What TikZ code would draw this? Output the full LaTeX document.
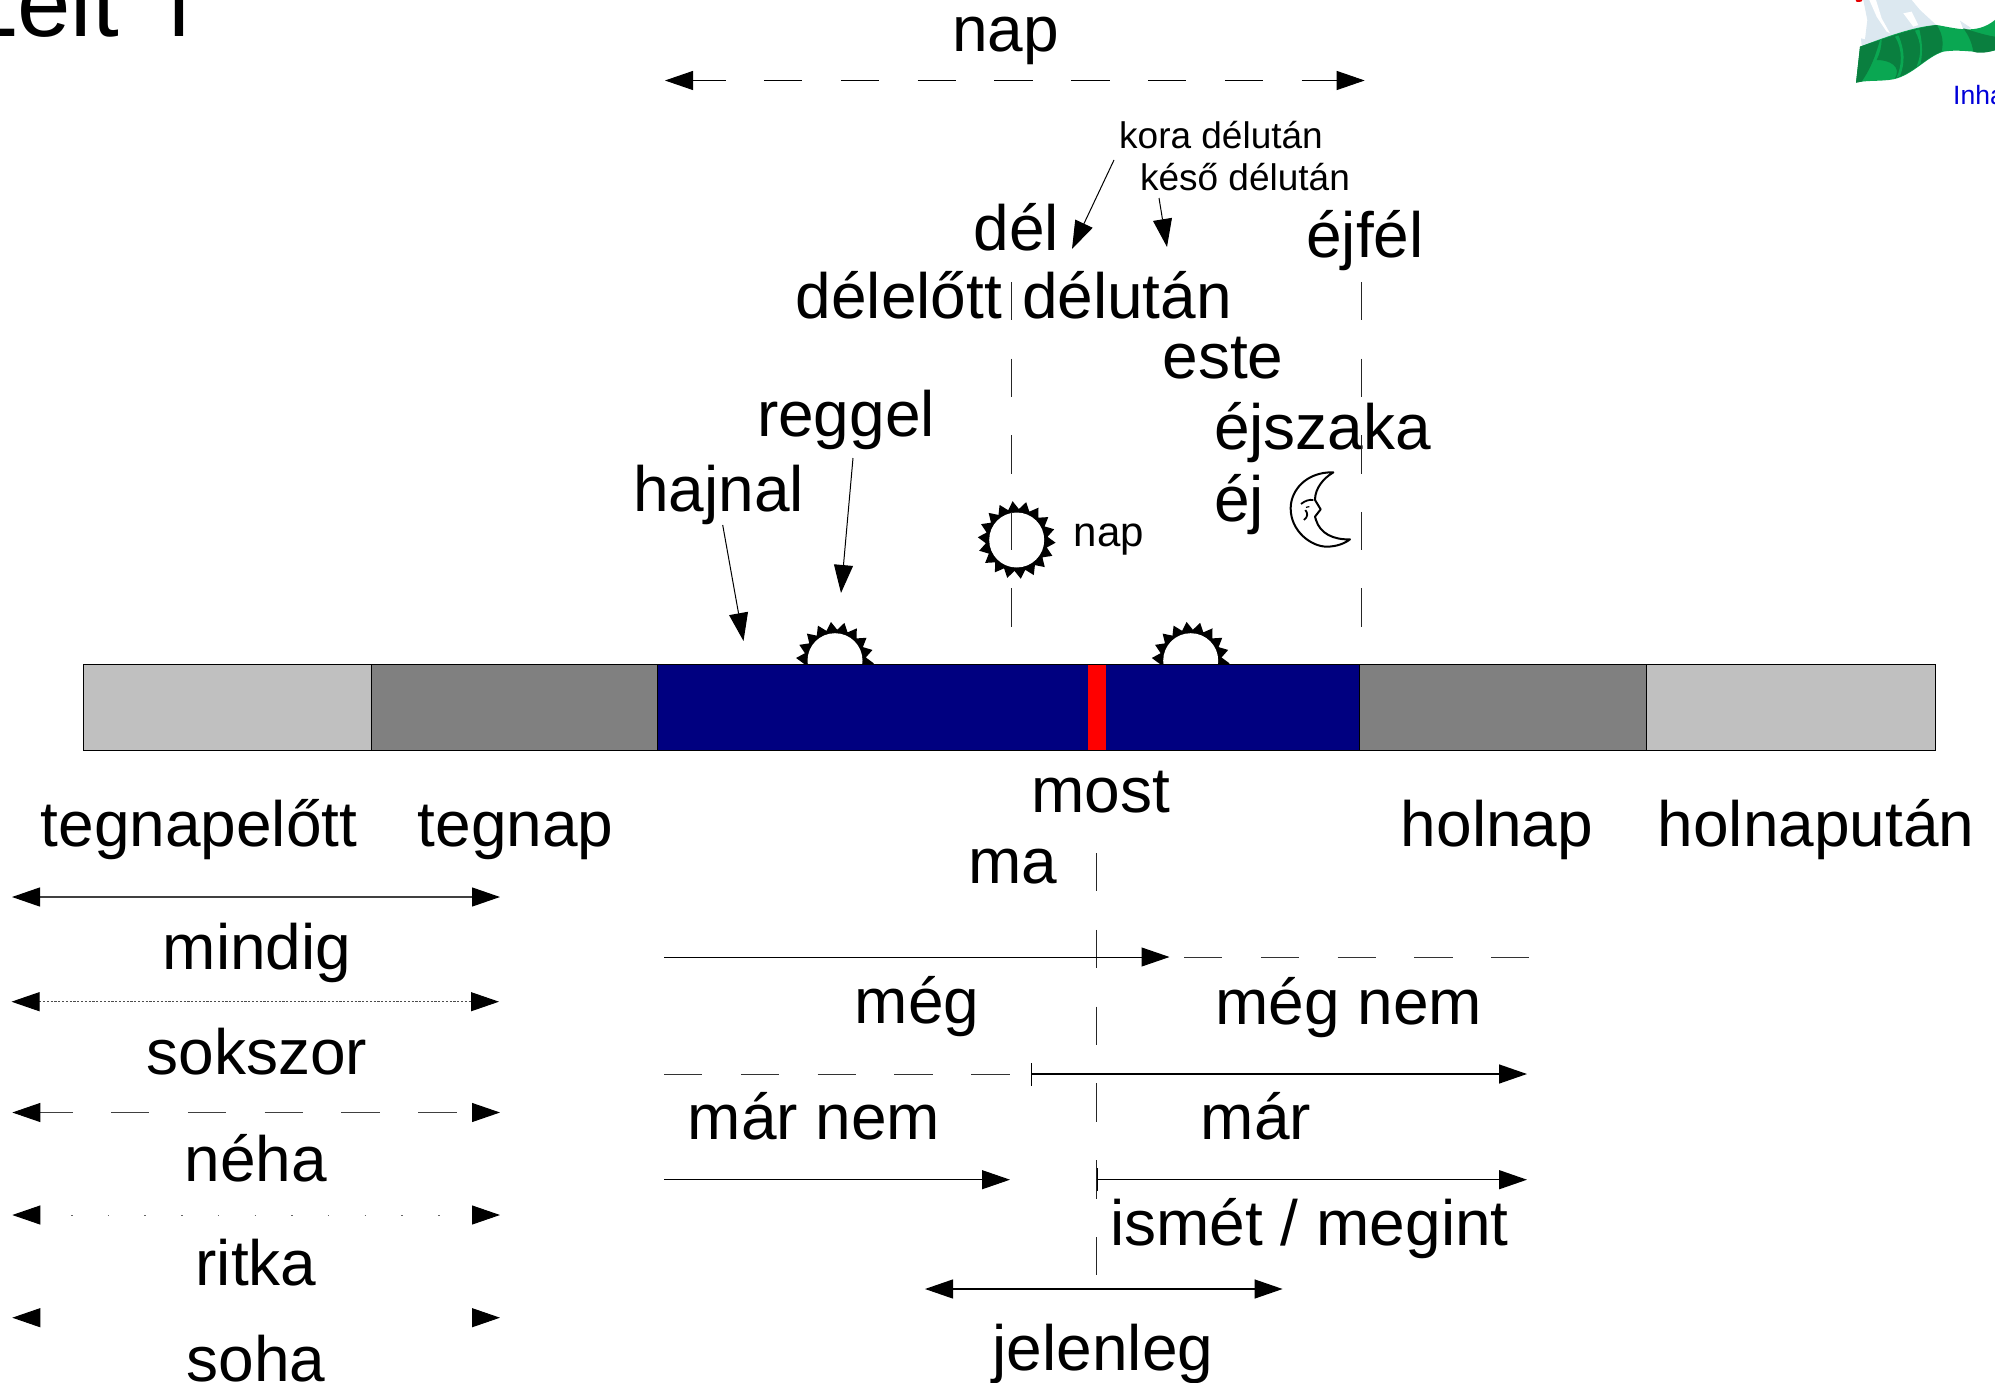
\documentclass[tikz,border=0pt]{standalone}
\usepackage{fontspec}
\setmainfont{Liberation Sans}
\newfontfamily\digitfont{Noto Sans}
\usetikzlibrary{arrows.meta}
\definecolor{barlight}{HTML}{C0C0C0}
\definecolor{bardark}{HTML}{808080}
\definecolor{barblue}{HTML}{000080}
\definecolor{flaglight}{HTML}{0AA752}
\definecolor{flagdark}{HTML}{0A7F3F}
\definecolor{flagice}{HTML}{DCE8F0}
\tikzset{
  big/.style={inner sep=0pt,anchor=base,font=\fontsize{64}{70}\selectfont},
  mid/.style={inner sep=0pt,anchor=base,font=\fontsize{42}{48}\selectfont},
  small/.style={inner sep=0pt,anchor=base,font=\fontsize{37}{42}\selectfont},
  seg/.style={draw=black!80,line width=1pt},
  head/.tip={Triangle[length=28pt,width=19pt,black]},
  cone/.style={line width=1pt,draw=black,-{head}},
  both/.style={line width=1pt,{head}-{head}},
  longdash/.style={dash pattern=on 38.4pt off 38.4pt},
  guide/.style={line width=1pt,black!85},
  strong/.style={line width=1.4pt,{Bar[width=23pt,line width=1.4pt]}-{head}},
}
\begin{document}
\begin{tikzpicture}[x=1pt,y=-1pt]
\useasboundingbox (0,0) rectangle (1995,1383);
\clip (0,0) rectangle (1995,1383);

% title, cropped by the page
\node[inner sep=0pt,anchor=base west,font=\fontsize{96}{100}\selectfont] (title) at (-36,37) {Leit\hspace{4pt} {\digitfont 1}};

% logo, cropped by the page
\begin{scope}[shift={(1780,0)},x=0.3333pt,y=-0.3333pt]
  \fill[red!90!black] (226,-2) -- (248,-2) -- (244,5) -- (230,6) -- cycle;
  \fill[flagice] (245,140) -- (243,115) -- (255,118) -- (262,60) -- (250,0) -- (395,0) -- (420,30) -- (470,76) -- (380,92) -- (300,120) -- cycle;
  \fill[white] (268,0) -- (290,50) -- (320,95) -- (330,100) -- (305,55) -- (288,0) -- cycle;
  \fill[white] (370,40) -- (395,35) -- (415,75) -- (400,80) -- cycle;
  \fill[flagice] (540,62) -- (575,85) -- (550,88) -- cycle;
  \fill[flaglight] (240,140) .. controls (320,110) and (400,80) .. (470,75)
    .. controls (530,85) and (590,105) .. (645,60) -- (650,150)
    .. controls (600,165) and (550,145) .. (490,155)
    .. controls (440,170) and (400,225) .. (340,238)
    .. controls (300,245) and (260,240) .. (228,248) -- cycle;
  \fill[flagdark] (240,140) -- (300,120) .. controls (285,170) and (275,200) .. (245,245) -- (228,248) -- cycle;
  \fill[flagdark] (305,118) .. controls (345,105) and (400,85) .. (470,75)
    .. controls (490,105) and (490,130) .. (485,155)
    .. controls (440,170) and (400,220) .. (345,235)
    .. controls (365,200) and (330,180) .. (290,180) .. controls (300,160) and (305,140) .. (305,118) -- cycle;
  \fill[flaglight] (345,110) .. controls (370,150) and (365,200) .. (350,232) -- (360,228) .. controls (375,190) and (375,150) .. (355,106) -- cycle;
  \fill[flaglight] (405,92) .. controls (425,130) and (425,160) .. (410,200) -- (422,190) .. controls (430,150) and (425,120) .. (418,88) -- cycle;
  \fill[flagdark] (550,85) .. controls (570,90) and (610,105) .. (645,110) -- (645,150) .. controls (620,160) and (590,160) .. (580,155) .. controls (575,125) and (565,105) .. (550,85) -- cycle;
\end{scope}
\node[inner sep=0pt,anchor=base west,text=blue!85!black,font=\fontsize{26.5}{30}\selectfont] (logotext) at (1953,105) {Inha};

% suns
\foreach \cx/\cy/\nm in {835/660.7/suna,1190.7/660.7/sunb,1016.7/540/sunc}{
  \coordinate (\nm) at (\cx,\cy);
  \fill[black,shift={(\nm)}] (84:39)
    \foreach \k in {1,...,18}{ -- ({84+20*\k-10}:31) -- ({84+20*\k}:39) } -- cycle;
  \fill[white] (\nm) circle (27.5);
}

% bar
\coordinate (b0) at (83,664);
\coordinate (b1) at (371.5,750);
\coordinate (b2) at (657,664);
\coordinate (b3) at (1359.5,750);
\coordinate (b4) at (1646.5,664);
\coordinate (b5) at (1935.5,750);
\filldraw[fill=barlight,draw=black,line width=1pt] (b0) rectangle (b1);
\filldraw[fill=bardark,draw=black,line width=1pt] (b1 |- b0) rectangle (b2 |- b1);
\filldraw[fill=barblue,draw=black,line width=1pt] (b2) rectangle (b3);
\filldraw[fill=bardark,draw=black,line width=1pt] (b3 |- b0) rectangle (b4 |- b1);
\filldraw[fill=barlight,draw=black,line width=1pt] (b4) rectangle (b5);
\fill[red] (1088,664.5) rectangle (1105.6,749.5);

% labels above the bar
\node[big] (napt) at (1005.5,52) {nap};
\node[small] (kora) at (1221,149) {kora délután};
\node[small] (keso) at (1245,191) {késő délután};
\node[big] (del) at (1016.5,251) {dél};
\node[big] (ejfel) at (1365,257.7) {éjfél};
\node[big] (delelott) at (899,318.5) {délelőtt};
\node[big] (delutan) at (1127,318.5) {délután};
\node[big] (este) at (1223,378.7) {este};
\node[big] (reggel) at (846,436) {reggel};
\node[big] (ejszaka) at (1322.6,449) {éjszaka};
\node[big] (hajnal) at (718.5,511.7) {hajnal};
\node[big] (ej) at (1239,521) {éj};
\node[mid] (napk) at (1109,546) {nap};

% labels below the bar
\node[big] (most) at (1101,812) {most};
\node[big] (tegnapelott) at (199,846) {tegnapelőtt};
\node[big] (tegnap) at (515.5,846) {tegnap};
\node[big] (holnap) at (1497,846) {holnap};
\node[big] (holnaputan) at (1816,846) {holnapután};
\node[big] (ma) at (1013,883) {ma};
\node[big] (mindig) at (257,969) {mindig};
\node[big] (meg) at (917,1023) {még};
\node[big] (megnem) at (1349,1024) {még nem};
\node[big] (sokszor) at (257,1074) {sokszor};
\node[big] (marnem) at (814,1139) {már nem};
\node[big] (mar) at (1256,1139) {már};
\node[big] (neha) at (256,1181) {néha};
\node[big] (ismet) at (1309.5,1245) {ismét / megint};
\node[big] (ritka) at (256,1285.5) {ritka};
\node[big] (jelenleg) at (1103,1370) {jelenleg};
\node[big] (soha) at (256,1381.7) {soha};

% moon
\begin{scope}[shift={(1270,450)},x=0.3333pt,y=-0.3333pt]
  \draw[line width=2pt,line join=round] (190,67)
    .. controls (110,65) and (62,120) .. (62,175)
    .. controls (62,245) and (125,290) .. (170,290)
    .. controls (200,290) and (225,280) .. (240,268)
    .. controls (190,270) and (150,250) .. (138,210)
    -- (135,200) -- (152,178) -- (135,150)
    .. controls (135,115) and (160,85) .. (190,67) -- cycle;
  \draw[line width=1.8pt] (93,162) .. controls (105,152) and (118,148) .. (130,150);
  \draw[line width=1.8pt] (106,180) .. controls (114,190) and (114,200) .. (102,210);
  \draw[line width=1.2pt] (108,172) -- (118,170);
\end{scope}

% dashed guides
\coordinate (gnt) at (1011.7,282);
\coordinate (gnb) at (1011.7,627);
\coordinate (gmt) at (1361,282);
\coordinate (gmb) at (1361,627);
\coordinate (gst) at (1096,853);
\coordinate (gsb) at (1096,1275);
\draw[guide,dash pattern=on 38.3pt off 38.3pt] (gnt) -- (gnb);
\draw[guide,dash pattern=on 38.3pt off 38.3pt] (gmt) -- (gmb);
\draw[guide,longdash] (gst) -- (gsb);

% pointer arrows
\coordinate (ka) at (1114,160);
\coordinate (kb) at (1072,249);
\coordinate (la) at (1159,198);
\coordinate (lb) at (1167,247);
\coordinate (ha) at (722.7,525);
\coordinate (hb) at (743.5,641);
\coordinate (ra) at (853,458);
\coordinate (rb) at (841,593);
\draw[cone] (ka) -- (kb);
\draw[cone] (la) -- (lb);
\draw[cone] (ha) -- (hb);
\draw[cone] (ra) -- (rb);

% day arrow
\coordinate (dl) at (665,80.5);
\coordinate (dr) at (1364.7,80.5);
\draw[both,black,longdash,dash phase=5.6pt] (dl) -- (dr);

% frequency arrows
\coordinate (f1l) at (12,897);
\coordinate (f1r) at (500,897);
\coordinate (f2l) at (11.5,1001.7);
\coordinate (f2r) at (499,1001.7);
\coordinate (f3l) at (12.3,1112.5);
\coordinate (f3r) at (500,1112.5);
\coordinate (f4l) at (12.3,1215);
\coordinate (f4r) at (500,1215);
\coordinate (f5l) at (12.3,1317.7);
\coordinate (f5r) at (500,1317.7);
\draw[both,line width=1.2pt,draw=black!75] (f1l) -- (f1r);
\draw[both,draw=black!70,dash pattern=on 2.2pt off 1.6pt] (f2l) -- (f2r);
\draw[both,draw=black!75,longdash,dash phase=5.8pt] (f3l) -- (f3r);
\draw[both,draw=black!60,dash pattern=on 1.5pt off 35.2pt,dash phase=5.7pt] (f4l) -- (f4r);
\draw[both,dash pattern=on 0pt off 2000pt] (f5l) -- (f5r);

% centre arrows
\coordinate (m1a) at (664.4,957);
\coordinate (m1b) at (1169.5,957);
\coordinate (m1c) at (1184,957);
\coordinate (m1d) at (1529,957);
\coordinate (m2a) at (664,1074);
\coordinate (m2b) at (1009.6,1074);
\coordinate (m2c) at (1031,1074);
\coordinate (m2d) at (1527,1074);
\coordinate (m3a) at (664,1179.7);
\coordinate (m3b) at (1010,1179.7);
\coordinate (m3c) at (1097,1179.7);
\coordinate (m3d) at (1527,1179.7);
\coordinate (m4a) at (925,1289);
\coordinate (m4b) at (1282.6,1289);
\draw[cone] (m1a) -- (m1b);
\draw[seg,longdash] (m1c) -- (m1d);
\draw[seg,longdash] (m2a) -- (m2b);
\draw[strong] (m2c) -- (m2d);
\draw[cone] (m3a) -- (m3b);
\draw[strong] (m3c) -- (m3d);
\draw[both,line width=1.2pt] (m4a) -- (m4b);
\end{tikzpicture}
\end{document}
